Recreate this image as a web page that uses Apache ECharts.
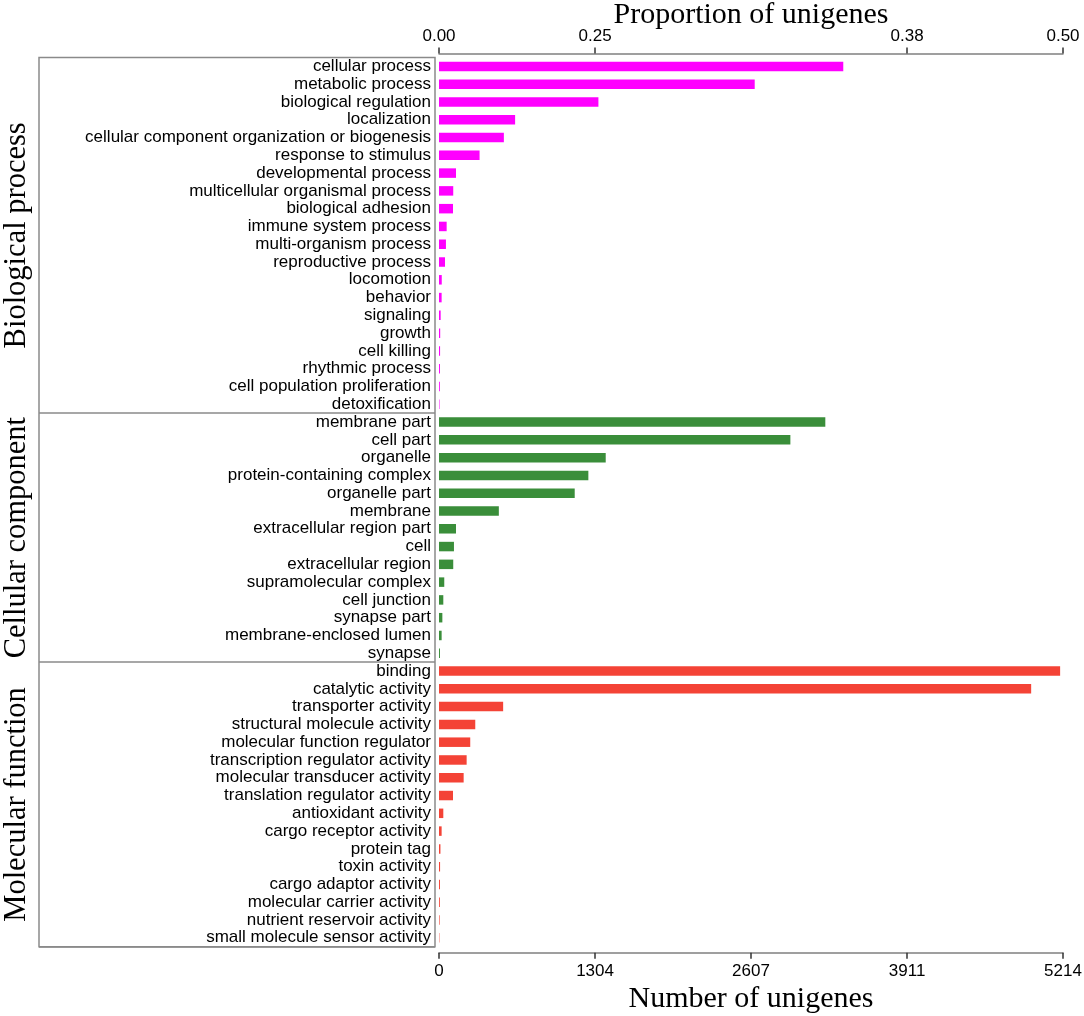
<!DOCTYPE html>
<html>
<head>
<meta charset="utf-8">
<script src="https://cdn.jsdelivr.net/npm/echarts@6/dist/echarts.min.js"></script>
<style>
  html, body { margin: 0; padding: 0; background: #fff; }
  #main { width: 1084px; height: 1016px; }
</style>
</head>
<body>
<div id="main"></div>
<script>
// GO terms per category, top to bottom
const bpTerms = ['cellular process', 'metabolic process', 'biological regulation', 'localization',
  'cellular component organization or biogenesis', 'response to stimulus', 'developmental process',
  'multicellular organismal process', 'biological adhesion', 'immune system process',
  'multi-organism process', 'reproductive process', 'locomotion', 'behavior', 'signaling',
  'growth', 'cell killing', 'rhythmic process', 'cell population proliferation', 'detoxification'];
const bpCounts = [3378, 2638, 1332, 636, 542, 339, 142, 119, 117, 64,
  58, 50, 23, 22, 14, 10, 9, 8, 7, 4];

const ccTerms = ['membrane part', 'cell part', 'organelle', 'protein-containing complex',
  'organelle part', 'membrane', 'extracellular region part', 'cell', 'extracellular region',
  'supramolecular complex', 'cell junction', 'synapse part', 'membrane-enclosed lumen', 'synapse'];
const ccCounts = [3228, 2936, 1393, 1248, 1134, 500, 142, 125, 119, 44, 36, 28, 22, 8];

const mfTerms = ['binding', 'catalytic activity', 'transporter activity',
  'structural molecule activity', 'molecular function regulator',
  'transcription regulator activity', 'molecular transducer activity',
  'translation regulator activity', 'antioxidant activity', 'cargo receptor activity',
  'protein tag', 'toxin activity', 'cargo adaptor activity', 'molecular carrier activity',
  'nutrient reservoir activity', 'small molecule sensor activity'];
const mfCounts = [5190, 4948, 536, 303, 261, 231, 206, 117, 36, 22, 12, 9, 8, 7, 5, 3];

const groupNames = ['Biological process', 'Cellular component', 'Molecular function'];
const groupColors = ['#ff00ff', '#3a8e3a', '#f44336'];

const bottomTickValues = [0, 1304, 2607, 3911, 5214];
const bottomTickLabels = ['0', '1304', '2607', '3911', '5214'];
const topTickValues = [0, 1304, 3911, 5214];
const topTickLabels = ['0.00', '0.25', '0.38', '0.50'];

const groups = [
  { terms: bpTerms, counts: bpCounts },
  { terms: ccTerms, counts: ccCounts },
  { terms: mfTerms, counts: mfCounts }
];

let allTerms = [];
let barData = [];
let boundaries = [];
groups.forEach(function (g, gi) {
  if (gi > 0) boundaries.push(allTerms.length);
  g.terms.forEach(function (t, i) {
    allTerms.push(t);
    barData.push({ value: g.counts[i], itemStyle: { color: groupColors[gi] } });
  });
});

const sans = 'Liberation Sans, Arial, sans-serif';
const serif = 'Liberation Serif, Times New Roman, serif';
const axisGrey = '#808080';

var myChart = echarts.init(document.getElementById('main'));

myChart.setOption({
  animation: false,
  grid: [
    { left: 439, right: 21, top: 57.5, bottom: 69.3, outerBoundsMode: 'none' },
    { left: 39, width: 396, top: 57.5, bottom: 69.3, show: true, outerBoundsMode: 'none',
      borderColor: '#8a8a8a', borderWidth: 1.5 }
  ],
  xAxis: [
    {
      type: 'value', gridIndex: 0, position: 'bottom', min: 0, max: 5214, offset: 6,
      name: 'Number of unigenes', nameLocation: 'middle', nameGap: 46, nameMoveOverlap: false,
      nameTextStyle: { fontFamily: serif, fontSize: 30, color: '#000', verticalAlign: 'middle' },
      axisLine: { show: true, lineStyle: { color: axisGrey, width: 1.5 } },
      axisTick: { show: true, length: 6, customValues: bottomTickValues,
        lineStyle: { color: '#333', width: 1.5 } },
      axisLabel: {
        customValues: bottomTickValues, margin: 10,
        fontFamily: sans, fontSize: 17, color: '#000',
        formatter: function (v) {
          const i = bottomTickValues.indexOf(v);
          return i >= 0 ? bottomTickLabels[i] : String(v);
        }
      },
      splitLine: { show: false }
    },
    {
      type: 'value', gridIndex: 0, position: 'top', min: 0, max: 5214, offset: 4,
      name: 'Proportion of unigenes', nameLocation: 'middle', nameGap: 38, nameMoveOverlap: false,
      nameTextStyle: { fontFamily: serif, fontSize: 30, color: '#000', verticalAlign: 'middle' },
      axisLine: { show: true, lineStyle: { color: axisGrey, width: 1.5 } },
      axisTick: { show: true, length: 6, customValues: topTickValues,
        lineStyle: { color: '#333', width: 1.5 } },
      axisLabel: {
        customValues: topTickValues, margin: 9,
        fontFamily: sans, fontSize: 17, color: '#000',
        formatter: function (v) {
          const i = topTickValues.indexOf(v);
          return i >= 0 ? topTickLabels[i] : '';
        }
      },
      splitLine: { show: false }
    },
    { type: 'value', gridIndex: 1, show: false, min: 0, max: 1 }
  ],
  yAxis: [
    {
      type: 'category', gridIndex: 0, data: allTerms, inverse: true,
      axisLine: { show: false }, axisTick: { show: false },
      axisLabel: { margin: 8, fontFamily: sans, fontSize: 17, color: '#000', interval: 0 }
    },
    {
      type: 'category', gridIndex: 1, data: allTerms, inverse: true,
      axisLine: { show: false }, axisTick: { show: false }, axisLabel: { show: false },
      splitLine: {
        show: true,
        interval: function (index) { return boundaries.indexOf(index) >= 0; },
        lineStyle: { color: '#8a8a8a', width: 1.5 }
      }
    }
  ],
  series: [
    {
      type: 'bar', xAxisIndex: 0, yAxisIndex: 0, barWidth: 9.5,
      data: barData
    }
  ]
});

// rotated group titles centred on each block of categories
const graphics = groups.map(function (g, gi) {
  const y1 = myChart.convertToPixel({ yAxisIndex: 0 }, g.terms[0]);
  const y2 = myChart.convertToPixel({ yAxisIndex: 0 }, g.terms[g.terms.length - 1]);
  return {
    type: 'text', x: 17, y: (y1 + y2) / 2, rotation: Math.PI / 2,
    style: {
      text: groupNames[gi], fontFamily: serif, fontSize: 30.5, fill: '#000',
      align: 'center', verticalAlign: 'middle'
    }
  };
});
myChart.setOption({ graphic: graphics });
</script>
</body>
</html>
